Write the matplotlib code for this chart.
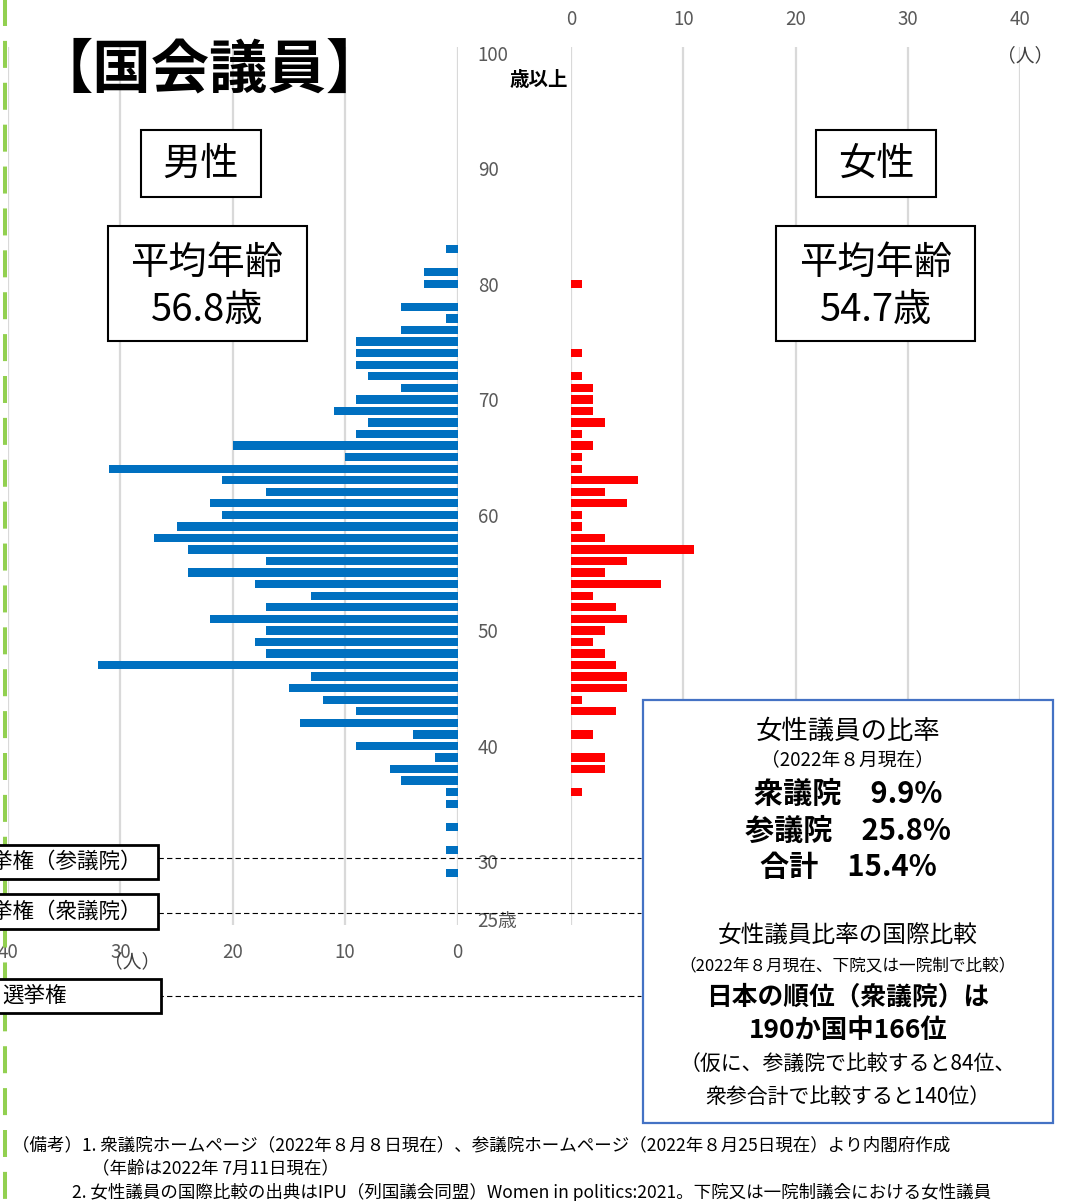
import matplotlib
matplotlib.use("Agg")
import matplotlib.pyplot as plt
from matplotlib.patches import Rectangle

plt.rcParams['font.family'] = ['Noto Sans CJK JP', 'DejaVu Sans']

# 年齢別の議員数（人）
male_ages = [83, 81, 80, 78, 77, 76, 75, 74, 73, 72, 71, 70, 69, 68, 67, 66, 65, 64, 63, 62,
             61, 60, 59, 58, 57, 56, 55, 54, 53, 52, 51, 50, 49, 48, 47, 46, 45, 44, 43, 42,
             41, 40, 39, 38, 37, 36, 35, 33, 31, 29]
male_counts = [1, 3, 3, 5, 1, 5, 9, 9, 9, 8, 5, 9, 11, 8, 9, 20, 10, 31, 21, 17,
               22, 21, 25, 27, 24, 17, 24, 18, 13, 17, 22, 17, 18, 17, 32, 13, 15, 12, 9, 14,
               4, 9, 2, 6, 5, 1, 1, 1, 1, 1]

female_ages = [80, 74, 72, 71, 70, 69, 68, 67, 66, 65, 64, 63, 62, 61, 60, 59, 58, 57, 56, 55,
               54, 53, 52, 51, 50, 49, 48, 47, 46, 45, 44, 43, 41, 39, 38, 36]
female_counts = [1, 1, 1, 2, 2, 2, 3, 1, 2, 1, 1, 6, 3, 5, 1, 1, 3, 11, 5, 3,
                 8, 2, 4, 5, 3, 2, 3, 4, 5, 5, 1, 4, 2, 3, 3, 1]

age_ticks = [100, 90, 80, 70, 60, 50, 40, 30, 25]
age_labels = ['100', '90', '80', '70', '60', '50', '40', '30', '25歳']
count_ticks = [0, 10, 20, 30, 40]

W, H = 1065, 1201
fig = plt.figure(figsize=(W / 100, H / 100), dpi=100)
fig.patch.set_facecolor('white')

GRAY = '#595959'
GRID = '#D9D9D9'


def fx(px):
    return px / W


def fy(py):
    return 1 - py / H


top_px, bot_px = 47, 925
ax_m = fig.add_axes([fx(8), fy(bot_px), fx(457.5 - 8), (bot_px - top_px) / H])
ax_f = fig.add_axes([fx(571), fy(bot_px), fx(1020 - 571), (bot_px - top_px) / H])

# 男性（左向き）
ax_m.barh(male_ages, male_counts, height=0.72, color='#0070C0')
ax_m.set_xlim(40, 0)
# 女性（右向き）
ax_f.barh(female_ages, female_counts, height=0.72, color='#FF0000')
ax_f.set_xlim(0, 40)

for ax in (ax_m, ax_f):
    ax.set_ylim(24.5, 100.5)
    ax.set_xticks(count_ticks)
    ax.xaxis.grid(True, color=GRID, lw=1.6)
    ax.set_axisbelow(True)
    for s in ax.spines.values():
        s.set_visible(False)
    ax.tick_params(length=0, labelsize=13.5, colors=GRAY)
    ax.patch.set_alpha(0)

ax_m.tick_params(axis='x', pad=12)
ax_m.yaxis.tick_right()
ax_m.set_yticks(age_ticks)
ax_m.set_yticklabels(age_labels)
ax_m.tick_params(axis='y', pad=14.5, labelsize=13.5)
for lbl in ax_m.get_yticklabels():
    lbl.set_horizontalalignment('left')

ax_f.xaxis.tick_top()
ax_f.tick_params(axis='x', pad=12)
ax_f.set_yticks([])

# 注記用のオーバーレイ（ピクセル座標）
ov = fig.add_axes([0, 0, 1, 1])
ov.set_xlim(0, W)
ov.set_ylim(H, 0)
ov.axis('off')

ov.plot([5, 5], [-14, H], color='#92D050', lw=2.9, dashes=(6.7, 3.7), solid_capstyle='butt')

ov.text(210, 70, '【国会議員】', fontsize=42, fontweight='bold', ha='center', va='center')
ov.text(539, 80, '歳以上', fontsize=14, fontweight='bold', ha='center', va='center')
ov.text(132, 962, '（人）', fontsize=13.5, color='#404040', ha='center', va='center')
ov.text(1025, 56, '（人）', fontsize=13.5, color='#404040', ha='center', va='center')


def box(x0, y0, x1, y1, ec='black', lw=1.5):
    ov.add_patch(Rectangle((x0, y0), x1 - x0, y1 - y0, fc='white', ec=ec, lw=lw, zorder=3))


box(141, 130, 261, 197)
ov.text(201, 164, '男性', fontsize=27.5, ha='center', va='center', zorder=4)
box(108, 226, 307, 341)
ov.text(207, 263, '平均年齢', fontsize=27.5, ha='center', va='center', zorder=4)
ov.text(207, 311, '56.8歳', fontsize=27.5, ha='center', va='center', zorder=4)

box(816, 130, 936, 197)
ov.text(876, 164, '女性', fontsize=27.5, ha='center', va='center', zorder=4)
box(776, 226, 975, 341)
ov.text(876, 263, '平均年齢', fontsize=27.5, ha='center', va='center', zorder=4)
ov.text(876, 311, '54.7歳', fontsize=27.5, ha='center', va='center', zorder=4)

# 被選挙権・選挙権の年齢ライン
for y in (858, 913, 996):
    ov.plot([158, 641], [y, y], color='black', lw=0.8, dashes=(4.8, 2.9), zorder=2)

box(-10, 845, 158, 879, lw=2)
ov.text(142, 862, '被選挙権（参議院）', fontsize=15.5, ha='right', va='center', zorder=4)
box(-10, 894, 158, 929, lw=2)
ov.text(142, 912, '被選挙権（衆議院）', fontsize=15.5, ha='right', va='center', zorder=4)
box(-10, 979, 161, 1013, lw=2)
ov.text(2, 996, '選挙権', fontsize=15.5, ha='left', va='center', zorder=4)

# 女性議員比率の枠
box(643, 700, 1053, 1123, ec='#4472C4', lw=1.6)
cx = 848
ov.text(cx, 731, '女性議員の比率', fontsize=19, ha='center', va='center', zorder=4)
ov.text(cx, 760, '（2022年８月現在）', fontsize=13.5, ha='center', va='center', zorder=4)
ov.text(cx, 794, '衆議院　9.9%', fontsize=21, fontweight='bold', ha='center', va='center', zorder=4)
ov.text(cx, 831, '参議院　25.8%', fontsize=21, fontweight='bold', ha='center', va='center', zorder=4)
ov.text(cx, 867, '合計　15.4%', fontsize=21, fontweight='bold', ha='center', va='center', zorder=4)
ov.text(cx, 936, '女性議員比率の国際比較', fontsize=17, ha='center', va='center', zorder=4)
ov.text(cx, 966, '（2022年８月現在、下院又は一院制で比較）', fontsize=12, ha='center', va='center', zorder=4)
ov.text(cx, 997, '日本の順位（衆議院）は', fontsize=18.5, fontweight='bold', ha='center', va='center', zorder=4)
ov.text(cx, 1030, '190か国中166位', fontsize=19, fontweight='bold', ha='center', va='center', zorder=4)
ov.text(cx, 1064, '（仮に、参議院で比較すると84位、', fontsize=15, ha='center', va='center', zorder=4)
ov.text(cx, 1097, '衆参合計で比較すると140位）', fontsize=15, ha='center', va='center', zorder=4)

# 備考
ov.text(12, 1145, '（備考）1. 衆議院ホームページ（2022年８月８日現在）、参議院ホームページ（2022年８月25日現在）より内閣府作成',
        fontsize=12.6, ha='left', va='center')
ov.text(92, 1168, '（年齢は2022年 7月11日現在）', fontsize=12.6, ha='left', va='center')
ov.text(72, 1192, '2. 女性議員の国際比較の出典はIPU（列国議会同盟）Women in politics:2021。下院又は一院制議会における女性議員',
        fontsize=12.6, ha='left', va='center')

fig.savefig('out.png', dpi=100)
